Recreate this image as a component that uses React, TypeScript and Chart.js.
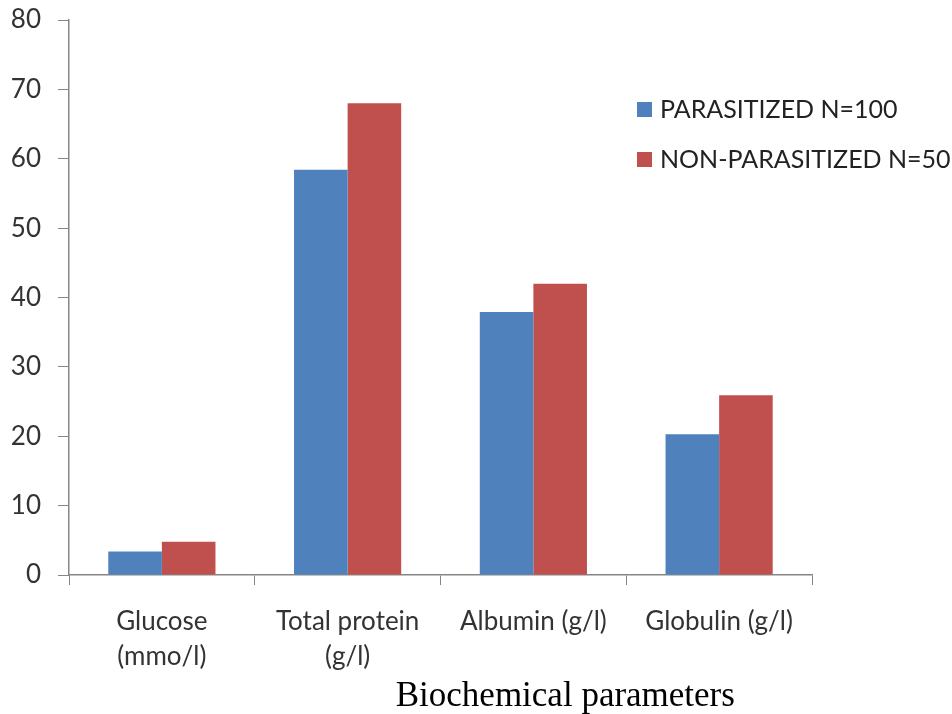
import React, { useEffect, useRef } from "react";
import { Chart, registerables } from "chart.js";

Chart.register(...registerables);

const categories: (string | string[])[] = [
  ["Glucose", "(mmo/l)"],
  ["Total protein", "(g/l)"],
  "Albumin (g/l)",
  "Globulin (g/l)",
];
const parasitized = [3.4, 58.4, 37.9, 20.3];
const nonParasitized = [4.8, 68, 42, 25.9];
const seriesNames = ["PARASITIZED N=100", "NON-PARASITIZED N=50"];
const seriesColors = ["#4F81BD", "#C0504D"];
const yMin = 0;
const yMax = 80;
const yStep = 10;
const axisTitle = "Biochemical parameters";

const overlayPlugin = {
  id: "overlay",
  afterDraw(chart: any) {
    const ctx = chart.ctx as CanvasRenderingContext2D;
    const ca = chart.chartArea;
    ctx.save();
    const x0 = ca.right - 175;
    chart.data.datasets.forEach((ds: any, i: number) => {
      const y = 102 + i * 50;
      ctx.fillStyle = ds.backgroundColor;
      ctx.fillRect(x0, y, 15, 15);
      ctx.fillStyle = "#222";
      ctx.font = "25px Lato";
      ctx.textAlign = "left";
      ctx.textBaseline = "middle";
      ctx.fillText(ds.label, x0 + 23, y + 8);
    });
    ctx.font = "35px 'Liberation Serif'";
    ctx.textAlign = "center";
    ctx.textBaseline = "alphabetic";
    ctx.fillStyle = "#000";
    ctx.fillText(axisTitle, ca.left + (ca.right - ca.left) * 0.668, 706);
    ctx.restore();
  },
};

export default function App() {
  const ref = useRef<HTMLCanvasElement | null>(null);
  useEffect(() => {
    document.body.style.margin = "0";
    if (!ref.current) return;
    const chart = new Chart(ref.current, {
      type: "bar",
      data: {
        labels: categories,
        datasets: [
          {
            label: seriesNames[0],
            data: parasitized,
            backgroundColor: seriesColors[0],
            borderWidth: 0,
          },
          {
            label: seriesNames[1],
            data: nonParasitized,
            backgroundColor: seriesColors[1],
            borderWidth: 0,
          },
        ],
      },
      options: {
        responsive: false,
        animation: false,
        devicePixelRatio: 1,
        layout: { padding: { top: 20, right: 140, left: 0, bottom: 0 } },
        datasets: {
          bar: { categoryPercentage: 0.577, barPercentage: 1 },
        },
        plugins: {
          legend: { display: false },
          tooltip: { enabled: false },
          title: { display: false },
        },
        scales: {
          x: {
            grid: {
              display: true,
              offset: true,
              drawOnChartArea: false,
              drawTicks: true,
              tickLength: 10,
              color: "#868686",
            },
            border: { color: "#868686", width: 1.5 },
            ticks: {
              color: "#333",
              font: { family: "Lato", size: 26, lineHeight: 1.35 },
              padding: 19,
              maxRotation: 0,
              autoSkip: false,
            },
            afterFit: (s: any) => {
              s.height = 139;
            },
          },
          y: {
            min: yMin,
            max: yMax,
            grid: {
              drawOnChartArea: false,
              drawTicks: true,
              tickLength: 11,
              color: "#868686",
            },
            border: { color: "#868686", width: 1.5 },
            ticks: {
              stepSize: yStep,
              color: "#333",
              font: { family: "Lato", size: 26 },
              padding: 17,
            },
            afterFit: (s: any) => {
              s.width = 69;
              s.paddingTop = 0;
              s.paddingBottom = 0;
            },
          },
        },
      },
      plugins: [overlayPlugin],
    });
    return () => chart.destroy();
  }, []);
  return (
    <div style={{ width: 952, height: 714 }}>
      <canvas ref={ref} width={952} height={714} style={{ display: "block" }} />
    </div>
  );
}
